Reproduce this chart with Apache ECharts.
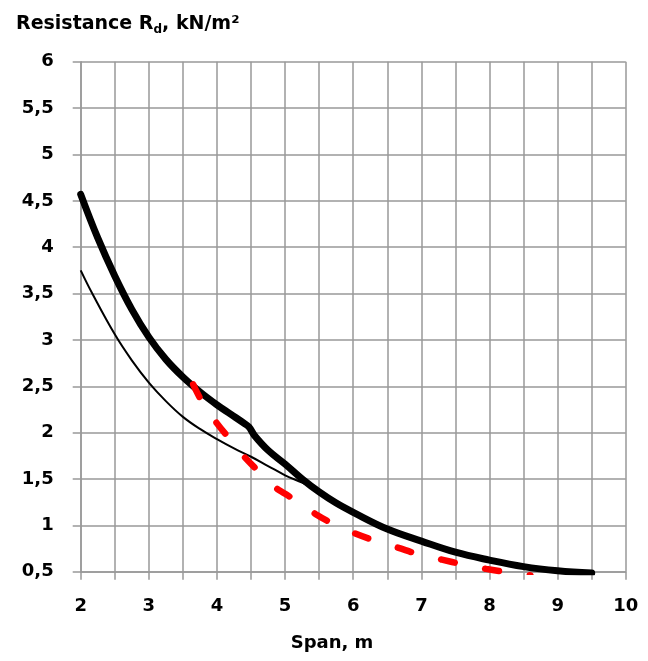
<!DOCTYPE html>
<html>
<head>
<meta charset="utf-8">
<script src="https://cdn.jsdelivr.net/npm/echarts@6/dist/echarts.min.js"></script>
<style>html,body{margin:0;padding:0;background:#fff;}#c{width:648px;height:661px;}</style>
</head>
<body>
<div id="c"></div>
<script>
// Thick black curve
var thickX = [2, 2.25, 2.5, 2.75, 3, 3.25, 3.5, 3.75, 4, 4.2, 4.4, 4.47, 4.55, 4.75, 5, 5.25, 5.5, 5.75, 6, 6.5, 7, 7.5, 8, 8.5, 9, 9.5];
var thickY = [4.57, 4.1, 3.69, 3.33, 3.03, 2.79, 2.6, 2.44, 2.3, 2.2, 2.1, 2.06, 1.97, 1.81, 1.66, 1.5, 1.36, 1.24, 1.14, 0.96, 0.83, 0.71, 0.625, 0.555, 0.51, 0.485];
// Thin black curve
var thinX = [2, 2.17, 2.5, 2.75, 3, 3.25, 3.5, 3.75, 4, 4.25, 4.5, 4.75, 5, 5.25, 5.45];
var thinY = [3.75, 3.5, 3.06, 2.78, 2.54, 2.34, 2.17, 2.04, 1.93, 1.83, 1.74, 1.64, 1.54, 1.46, 1.39];
// Red dashed curve
var redX = [3.65, 3.8, 4.0, 4.2, 4.4, 4.6, 4.8, 5.0, 5.2, 5.45, 5.7, 6.0, 6.3, 6.65, 6.95, 7.3, 7.6, 7.95, 8.25, 8.6];
var redY = [2.52, 2.31, 2.1, 1.92, 1.74, 1.59, 1.44, 1.34, 1.25, 1.12, 1.02, 0.92, 0.84, 0.76, 0.69, 0.63, 0.58, 0.53, 0.495, 0.46];
var xTickLabels = ['2','3','4','5','6','7','8','9','10'];
var yTickLabels = ['0,5','1','1,5','2','2,5','3','3,5','4','4,5','5','5,5','6'];

function pairs(xs, ys){ return xs.map(function(x,i){ return [x, ys[i]]; }); }

var FONT = 'DejaVu Sans';
var chart = echarts.init(document.getElementById('c'));
chart.setOption({
  animation: false,
  backgroundColor: '#fff',
  title: {
    text: 'Resistance R{sub|d}, kN/m²',
    left: 11, top: 8,
    textStyle: {
      fontFamily: FONT, fontWeight: 'bold', fontSize: 19, color: '#000',
      rich: { sub: { fontFamily: FONT, fontWeight: 'bold', fontSize: 12, color: '#000', padding: [11, 0, 0, 0] } }
    }
  },
  graphic: [{
    type: 'text', x: 332, y: 643,
    style: { text: 'Span, m', fontFamily: FONT, fontWeight: 'bold', fontSize: 18, fill: '#000', align: 'center', verticalAlign: 'middle' }
  }],
  grid: { left: 80.7, right: 22.2, top: 61.8, bottom: 89.3, containLabel: false },
  xAxis: {
    type: 'value', min: 2, max: 10, interval: 0.5,
    axisLine: { show: true, lineStyle: { color: '#999', width: 1.5 } },
    axisTick: { show: true, length: 8, lineStyle: { color: '#999', width: 1.5 } },
    splitLine: { show: true, lineStyle: { color: '#999', width: 1.5 } },
    axisLabel: {
      margin: 26, fontFamily: FONT, fontWeight: 'bold', fontSize: 18, color: '#000',
      formatter: function(v){ var i = xTickLabels.indexOf(String(v)); return i >= 0 ? xTickLabels[i] : ''; }
    }
  },
  yAxis: {
    type: 'value', min: 0.5, max: 6, interval: 0.5,
    axisLine: { show: true, lineStyle: { color: '#999', width: 1.5 } },
    axisTick: { show: true, length: 8, lineStyle: { color: '#999', width: 1.5 } },
    splitLine: { show: true, lineStyle: { color: '#999', width: 1.5 } },
    axisLabel: {
      margin: 27, fontFamily: FONT, fontWeight: 'bold', fontSize: 18, color: '#000',
      formatter: function(v){ var k = Math.round((v - 0.5) / 0.5); return yTickLabels[k] || ''; }
    }
  },
  series: [
    { type: 'line', data: pairs(thinX, thinY), showSymbol: false, smooth: 0.4, clip: true,
      lineStyle: { color: '#000', width: 2 } },
    { type: 'line', data: pairs(thickX, thickY), showSymbol: false, smooth: 0.4, clip: true,
      lineStyle: { color: '#000', width: 7, cap: 'round', join: 'round' } },
    { type: 'line', data: pairs(redX, redY), showSymbol: false, smooth: 0.4, clip: true,
      lineStyle: { color: '#ff0000', width: 6.5, type: [14, 31], cap: 'round' } }
  ]
});
</script>
</body>
</html>
